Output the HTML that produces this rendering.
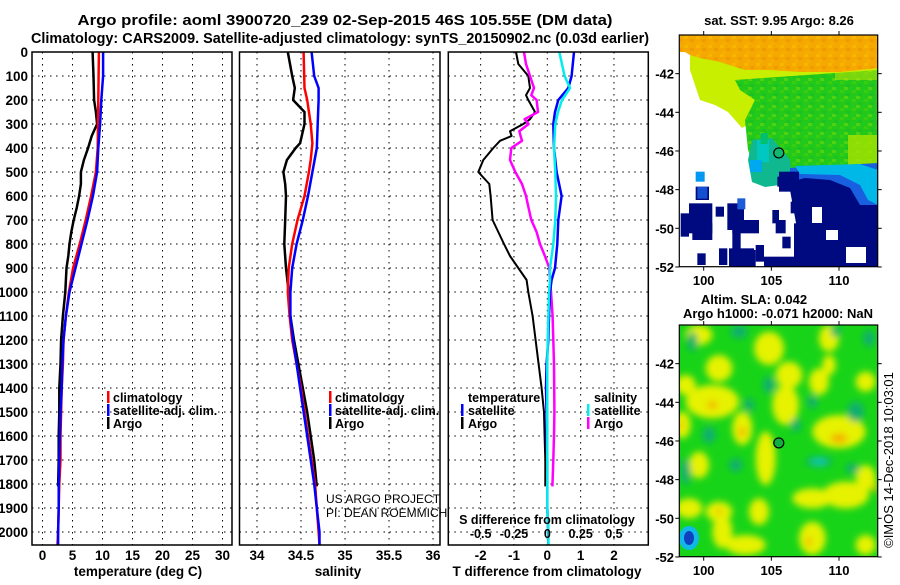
<!DOCTYPE html>
<html><head><meta charset="utf-8"><style>
html,body{margin:0;padding:0;background:#fff}
svg text{font-family:"Liberation Sans",sans-serif}
.b{font-weight:bold}
</style></head><body>
<svg id="chart" width="900" height="580" viewBox="0 0 900 580" xmlns="http://www.w3.org/2000/svg">
<defs>
<filter id="blur" x="-20%" y="-20%" width="140%" height="140%"><feGaussianBlur stdDeviation="3.5"/></filter>
<clipPath id="clipM1"><rect x="679.3" y="35" width="198.4" height="231.7"/></clipPath>
<clipPath id="clipM2"><rect x="679.3" y="325" width="198.4" height="231.7"/></clipPath>
<pattern id="spkO" width="12" height="9" patternUnits="userSpaceOnUse"><rect x="0" y="0" width="4" height="3" fill="#ffcc00"/><rect x="6" y="3" width="4" height="3" fill="#e88a00"/><rect x="2" y="6" width="4" height="3" fill="#f8b800"/></pattern>
<pattern id="spkG" width="12" height="9" patternUnits="userSpaceOnUse"><rect x="0" y="0" width="4" height="3" fill="#70d800"/><rect x="6" y="3" width="4" height="3" fill="#10b030"/><rect x="4" y="6" width="4" height="3" fill="#b8e800"/></pattern>
</defs>
<text class="b" x="345" y="25" font-size="14.5" text-anchor="middle" textLength="535" lengthAdjust="spacingAndGlyphs">Argo profile: aoml 3900720_239 02-Sep-2015 46S 105.55E (DM data)</text>
<text class="b" x="340" y="43" font-size="14.5" text-anchor="middle" textLength="618" lengthAdjust="spacingAndGlyphs">Climatology: CARS2009. Satellite-adjusted climatology: synTS_20150902.nc (0.03d earlier)</text>
<g id="panels"></g>
<g id="maps"></g>
</svg>
<script>
// ---- data ----
const depthsTclim = [0,200,400,500,600,700,800,900,1000,1100,1200,1300,1400,1500,1600,1700,1800,1900,2000,2054];
const tempClim    = [9.4,9.3,9.2,8.9,8.1,7.2,6.2,5.1,4.4,3.9,3.5,3.4,3.2,3.1,3.0,3.0,2.8,2.7,2.6,2.5];
const depthsTsat  = [0,100,200,300,400,500,600,700,800,900,1000,1100,1200,1300,1400,1500,1600,1700,1800,1900,2000,2054];
const tempSat     = [10.1,10.1,9.8,9.6,9.3,9.1,8.4,7.5,6.5,5.5,4.5,3.9,3.5,3.3,3.2,3.0,2.9,2.8,2.7,2.7,2.6,2.6];
const depthsArgo  = [0,100,200,250,300,350,400,450,500,550,600,650,700,750,800,850,900,1000,1100,1200,1300,1400,1500,1600,1700,1810];
const tempArgo    = [8.35,8.5,8.6,8.9,9.1,8.2,7.6,6.9,6.4,6.4,6.1,5.7,5.2,4.8,4.5,4.3,4.0,3.8,3.4,3.1,3.0,2.8,2.8,2.7,2.7,2.6];
const depthsSal   = [0,100,150,200,250,300,380,400,450,500,550,600,700,800,900,1000,1100,1200,1300,1400,1500,1600,1700,1810];
const salArgo     = [34.35,34.40,34.43,34.41,34.54,34.54,34.49,34.44,34.34,34.30,34.32,34.33,34.32,34.31,34.33,34.36,34.38,34.42,34.47,34.52,34.57,34.61,34.65,34.68];
const depthsSclim = [0,150,200,300,380,450,500,600,700,800,900,1000,1100,1200,1300,1400,1500,1600,1700,1800,1900,2000,2054];
const salClim     = [34.53,34.54,34.57,34.61,34.63,34.61,34.59,34.54,34.46,34.40,34.36,34.35,34.37,34.40,34.45,34.50,34.54,34.58,34.62,34.66,34.68,34.70,34.71];
const depthsSsat  = [0,100,150,200,300,400,500,600,700,800,900,1000,1100,1200,1300,1400,1500,1600,1700,1800,1900,2000,2054];
const salSat      = [34.62,34.65,34.70,34.70,34.69,34.68,34.63,34.58,34.52,34.45,34.40,34.38,34.38,34.41,34.45,34.49,34.53,34.57,34.61,34.65,34.68,34.71,34.71];
const depthsD     = [0,50,100,150,180,200,250,280,300,330,350,370,400,450,500,550,600,650,700,750,800,850,900,950,1000,1100,1200,1300,1400,1500,1600,1700,1810];
const dTargo      = [-0.94,-0.87,-0.57,-0.52,-0.64,-0.57,-0.37,-0.52,-0.72,-1.12,-1.07,-1.42,-1.62,-1.92,-2.07,-1.74,-1.70,-1.67,-1.64,-1.47,-1.30,-1.12,-0.87,-0.62,-0.57,-0.44,-0.35,-0.26,-0.17,-0.10,-0.08,-0.06,-0.06];
const depthsDsat  = [0,100,150,200,250,300,400,500,600,700,800,900,950,1000,1100,1200,1300,1400,1500,1600,1700,1800,1900,2000,2054];
const dTsat       = [0.80,0.73,0.63,0.33,0.23,0.18,0.20,0.28,0.43,0.33,0.30,0.23,0.13,0.08,0.05,0.03,-0.02,-0.04,-0.02,-0.02,0,0,0,0.03,0.03];
const dSargo      = [-0.175,-0.16,-0.13,-0.10,-0.12,-0.08,-0.07,-0.17,-0.14,-0.21,-0.2,-0.19,-0.27,-0.28,-0.24,-0.19,-0.16,-0.14,-0.12,-0.08,-0.055,-0.018,0.015,0.02,0.028,0.04,0.045,0.05,0.052,0.053,0.05,0.045,0.038];
const dSsat       = [0.09,0.13,0.17,0.11,0.08,0.06,0.05,0.06,0.065,0.06,0.045,0.02,0.02,0.013,0.008,0.003,0,0,0,0,0,0,0,0.008,0.008];
const depthTicks  = [0,100,200,300,400,500,600,700,800,900,1000,1100,1200,1300,1400,1500,1600,1700,1800,1900,2000];
const tempTicks   = [0,5,10,15,20,25,30];
const salTicks    = [34,34.5,35,35.5,36];
const dTTicks     = [-2,-1,0,1,2];
const dSTicks     = [-0.5,-0.25,0,0.25,0.5];
const dSTickLabels= ["-0.5","-0.25","0","0.25","0.5"];

const NS="http://www.w3.org/2000/svg";
function mk(tag,attrs,parent){const e=document.createElementNS(NS,tag);for(const k in attrs)e.setAttribute(k,attrs[k]);parent.appendChild(e);return e;}
const P=document.getElementById('panels');
const Y0=52, YS=0.24, YB=545;
const y=d=>Y0+d*YS;
const xT=v=>42.5+v*6.0;
const xS=v=>257+(v-34)*88;
const xDT=v=>547.3+v*33.33;
const xDS=v=>547.3+v*133.3;
const panels=[{l:32,r:232},{l:239.5,r:440},{l:448.3,r:648.3}];

function grid(p,xs,xf){
  depthTicks.forEach(d=>{
    const g=mk('line',{x1:p.l,x2:p.r,y1:y(d),y2:y(d),stroke:'#000','stroke-width':1,'stroke-dasharray':'1.5,4.5'},P);
    
    
  });
  xs.forEach(v=>{
    const g=mk('line',{x1:xf(v),x2:xf(v),y1:Y0,y2:YB,stroke:'#000','stroke-width':1,'stroke-dasharray':'1.5,4.5'},P);
    
    
  });
}
function frame(p,name){
  const r=mk('rect',{x:p.l,y:Y0,width:p.r-p.l,height:YB-Y0,fill:'none',stroke:'#000','stroke-width':1.5},P);
  
  
}
function line(ds,vs,xf,color,w,name){
  const pts=ds.map((d,i)=>xf(vs[i]).toFixed(1)+','+y(d).toFixed(1)).join(' ');
  const e=mk('polyline',{points:pts,fill:'none',stroke:color,'stroke-width':w,'stroke-linejoin':'round'},P);
  
  
}
function txt(x,yy,s,attrs,name){
  const e=mk('text',Object.assign({x:x,y:yy,'font-size':13},attrs||{}),P);
  e.textContent=s;
  
  
  return e;
}
function legBar(x,yy,color,name){
  const e=mk('rect',{x:x,y:yy-11,width:2.5,height:12,fill:color},P);
  
  
}

// panel 1
grid(panels[0],tempTicks,xT);
line(depthsArgo,tempArgo,xT,'#000',2.5,'temp-argo-line');
line(depthsTclim,tempClim,xT,'#f00',2.5,'temp-climatology-line');
line(depthsTsat,tempSat,xT,'#00f',2.5,'temp-satellite-line');
frame(panels[0],'temperature-panel');
depthTicks.forEach(d=>txt(28,y(d)+5,String(d),{'text-anchor':'end',class:'b','font-size':13.5},'depth-tick-label'));
tempTicks.forEach(v=>txt(xT(v),560,String(v),{'text-anchor':'middle',class:'b','font-size':13.5},'temp-tick-label'));
txt(138,576,'temperature (deg C)',{'text-anchor':'middle',class:'b','font-size':13.5},'temp-axis-title');
legBar(107,402,'#f00','legend-climatology-swatch');txt(113,402,'climatology',{class:'b','font-size':12.5},'legend-climatology');
legBar(107,415,'#00f','legend-satellite-swatch');txt(113,415,'satellite-adj. clim.',{class:'b','font-size':12.5},'legend-satellite');
legBar(107,428,'#000','legend-argo-swatch');txt(113,428,'Argo',{class:'b','font-size':12.5},'legend-argo');

// panel 2
grid(panels[1],salTicks,xS);
line(depthsSal,salArgo,xS,'#000',2.5,'sal-argo-line');
line(depthsSclim,salClim,xS,'#f00',2.5,'sal-climatology-line');
line(depthsSsat,salSat,xS,'#00f',2.5,'sal-satellite-line');
frame(panels[1],'salinity-panel');
salTicks.forEach(v=>txt(xS(v),560,String(v),{'text-anchor':'middle',class:'b','font-size':13.5},'sal-tick-label'));
txt(338,576,'salinity',{'text-anchor':'middle',class:'b','font-size':13.5},'sal-axis-title');
legBar(329,402,'#f00','legend2-climatology-swatch');txt(335,402,'climatology',{class:'b','font-size':12.5},'legend2-climatology');
legBar(329,415,'#00f','legend2-satellite-swatch');txt(335,415,'satellite-adj. clim.',{class:'b','font-size':12.5},'legend2-satellite');
legBar(329,428,'#000','legend2-argo-swatch');txt(335,428,'Argo',{class:'b','font-size':12.5},'legend2-argo');
txt(326,503,'US ARGO PROJECT',{'font-size':12},'credit-project');
txt(326,517,'PI: DEAN ROEMMICH',{'font-size':12},'credit-pi');

// panel 3
grid(panels[2],dTTicks,xDT);
line(depthsD,dTargo,xDT,'#000',2,'tdiff-argo-line');
line(depthsD,dSargo,xDS,'#f0f',2.5,'sdiff-argo-line');
line(depthsDsat,dTsat,xDT,'#00f',2.5,'tdiff-satellite-line');
line(depthsDsat,dSsat,xDS,'#0ee',2.5,'sdiff-satellite-line');
frame(panels[2],'difference-panel');
dTTicks.forEach(v=>txt(xDT(v),560,String(v),{'text-anchor':'middle',class:'b','font-size':13.5},'tdiff-tick-label'));
txt(547,576,'T difference from climatology',{'text-anchor':'middle',class:'b','font-size':13.5},'tdiff-axis-title');
txt(547,524,'S difference from climatology',{'text-anchor':'middle',class:'b','font-size':12.5},'sdiff-axis-title');
dSTicks.forEach((v,i)=>txt(xDS(v),538,dSTickLabels[i],{'text-anchor':'middle',class:'b','font-size':12.5},'sdiff-tick-label'));
txt(468,402,'temperature',{class:'b','font-size':12.5},'legend3-temperature-heading');
legBar(461,415,'#00f','legend3-tsat-swatch');txt(468,415,'satellite',{class:'b','font-size':12.5},'legend3-tsat');
legBar(461,428,'#000','legend3-targo-swatch');txt(468,428,'Argo',{class:'b','font-size':12.5},'legend3-targo');
txt(594,402,'salinity',{class:'b','font-size':12.5},'legend3-salinity-heading');
legBar(587,415,'#0ee','legend3-ssat-swatch');txt(594,415,'satellite',{class:'b','font-size':12.5},'legend3-ssat');
legBar(587,428,'#f0f','legend3-sargo-swatch');txt(594,428,'Argo',{class:'b','font-size':12.5},'legend3-sargo');
</script>
<script>
// ---- maps ----
const lonTicks=[100,105,110];
const latTicks=[-42,-44,-46,-48,-50,-52];
const floatLon=105.55, floatLat=-46.1;
const M=document.getElementById('maps');
const NS2="http://www.w3.org/2000/svg";
function mk2(tag,attrs,parent){const e=document.createElementNS(NS2,tag);for(const k in attrs)e.setAttribute(k,attrs[k]);parent.appendChild(e);return e;}
const ML=679.3, MR=877.7;
const mx=lon=>703.7+(lon-100)*13.53;
function my(lat,top){return top+(-40-lat)*19.33;}
function t2(x,yy,s,attrs,name){const e=mk2('text',Object.assign({x:x,y:yy,'font-size':13,'font-weight':'bold'},attrs||{}),M);e.textContent=s;return e;}
function axes(top,name){
  const r=mk2('rect',{x:ML,y:top,width:MR-ML,height:231.7,fill:'none',stroke:'#000','stroke-width':1.2},M);
  
  
  latTicks.forEach(l=>{t2(674,my(l,top)+5,String(l),{'text-anchor':'end'},'lat-tick-label');
    mk2('line',{x1:ML-4,x2:ML,y1:my(l,top),y2:my(l,top),stroke:'#000'},M);
    mk2('line',{x1:MR,x2:MR+4,y1:my(l,top),y2:my(l,top),stroke:'#000'},M);});
  lonTicks.forEach(l=>{t2(mx(l),top+250,String(l),{'text-anchor':'middle'},'lon-tick-label');
    mk2('line',{x1:mx(l),x2:mx(l),y1:top-4,y2:top,stroke:'#000'},M);
    mk2('line',{x1:mx(l),x2:mx(l),y1:top+231.7,y2:top+235.7,stroke:'#000'},M);});
}
function marker(top,fill){
  const c=mk2('circle',{cx:mx(floatLon),cy:my(floatLat,top),r:5,fill:fill,stroke:'#000','stroke-width':1.2},M);
  
  
}
// map 1: SST
const g1=mk2('g',{'clip-path':'url(#clipM1)'},M);


mk2('rect',{x:679,y:35,width:200,height:232,fill:'#fff'},g1);
mk2('polygon',{points:'690,52 878,52 878,90 760,90 772,100 768,118 752,122 742,128 735,120 728,112 715,105 700,100 695,85 690,70',fill:'#c8ee00'},g1);
mk2('polygon',{points:'735,80 878,70 878,200 860,195 840,185 820,175 800,170 790,175 770,175 755,170 748,150 745,120 755,100 740,90',fill:'#22c81a'},g1);
mk2('polygon',{points:'735,80 878,70 878,200 860,195 840,185 820,175 800,170 790,175 770,175 755,170 748,150 745,120 755,100 740,90',fill:'url(#spkG)',opacity:'0.3'},g1);
mk2('rect',{x:848,y:135,width:30,height:35,fill:'#a8e400',opacity:'0.8'},g1);
mk2('rect',{x:835,y:45,width:43,height:35,fill:'#d0e800',opacity:'0.5'},g1);
mk2('polygon',{points:'680,35 878,35 878,68 840,72 800,72 770,70 745,70 720,62 700,58 690,55 685,52 680,52',fill:'#f5a800'},g1);
mk2('polygon',{points:'680,35 878,35 878,68 840,72 800,72 770,70 745,70 720,62 700,58 690,55 685,52 680,52',fill:'url(#spkO)',opacity:'0.4'},g1);
mk2('polygon',{points:'752,140 772,138 790,160 792,178 780,185 765,187 752,182 748,160',fill:'#10b890'},g1);
mk2('rect',{x:757,y:140,width:12,height:22,fill:'#00c8c0'},g1);
mk2('rect',{x:750,y:160,width:12,height:12,fill:'#00a8f0'},g1);
mk2('polygon',{points:'790,170 878,165 878,267 797,267 796,223 790,190',fill:'#000a80'},g1);
mk2('polygon',{points:'790,168 878,163 878,205 860,205 850,188 830,180 805,178 790,182',fill:'#1860e0'},g1);
mk2('polygon',{points:'795,166 860,164 878,170 878,205 868,200 860,185 840,175 800,174',fill:'#00b8e8'},g1);
mk2('rect',{x:812,y:207,width:10,height:16,fill:'#fff'},g1);
mk2('rect',{x:846,y:247,width:20,height:16,fill:'#fff'},g1);
mk2('rect',{x:826,y:230,width:12,height:10,fill:'#fff'},g1);
const navyBlocks=[[5,220,25,70],[30,190,70,90],[50,140,40,40],[40,250,60,50],[110,200,25,30],[145,190,50,80],[160,240,80,40],[160,270,25,70],[230,315,25,50],[120,325,25,50],[55,340,25,35],[150,325,75,58],[180,330,50,50],[280,210,20,40],[290,240,30,40],[310,290,25,35],[255,350,100,33],[345,250,30,133],[335,185,25,35],[380,300,40,83],[300,95,60,60],[295,110,30,30],[340,150,30,50]];
navyBlocks.forEach(b=>{
  const e=mk2('rect',{x:679+b[0]/3,y:140+b[1]/3,width:b[2]/3,height:b[3]/3,fill:'#000a80'},g1);
  
  
});
mk2('rect',{x:679+50/3,y:140+95/3,width:9,height:10,fill:'#0098f0'},g1);
mk2('rect',{x:679+175/3,y:140+175/3,width:8,height:11,fill:'#1c5cd8'},g1);
mk2('rect',{x:679+55/3,y:140+140/3,width:10,height:12,fill:'#1450d0'},g1);
mk2('rect',{x:679+245/3,y:133,width:7,height:11,fill:'#00c070'},g1);
axes(35,'sst-map-frame');
marker(35,'#10b870');
t2(779,25,'sat. SST: 9.95 Argo: 8.26',{'text-anchor':'middle'},'sst-map-title');
// map 2: SLA
const g2=mk2('g',{'clip-path':'url(#clipM2)'},M);


mk2('rect',{x:679,y:325,width:200,height:232,fill:'#18d418'},g2);
const gb=mk2('g',{filter:'url(#blur)'},g2);
const yel=[[60,30,40,30],[270,70,45,50],[450,40,30,40],[100,230,80,50],[320,240,40,60],[480,320,80,50],[190,310,30,50],[10,300,25,40],[260,400,30,80],[60,420,30,40],[30,550,40,30],[120,560,40,30],[400,640,40,50],[500,510,70,40],[560,170,30,30],[130,620,30,50],[240,560,30,40],[560,660,30,30],[560,460,30,40],[400,520,60,30],[330,150,40,40],[200,660,60,30],[420,170,30,40],[120,130,40,40],[20,180,30,30],[450,120,20,30]];
yel.forEach(b=>mk2('ellipse',{cx:679+b[0]/3,cy:325+b[1]/3,rx:b[2]/3,ry:b[3]/3,fill:'#e6f200'},gb));
const org=[[100,240,15,12],[190,320,10,15],[480,340,25,15],[5,300,6,15],[390,650,8,15],[590,490,6,15],[120,560,10,8]];
org.forEach(b=>mk2('ellipse',{cx:679+b[0]/3,cy:325+b[1]/3,rx:b[2]/3,ry:b[3]/3,fill:'#f5b000'},gb));
const teal=[[270,180,18,25],[210,240,15,20],[350,300,15,20],[90,330,20,25],[420,410,40,15],[530,260,25,30],[570,40,18,25],[470,20,15,15],[180,20,25,20],[40,50,15,30],[20,440,15,40],[170,420,20,20],[520,430,20,15],[400,230,15,20]];
teal.forEach(b=>mk2('ellipse',{cx:679+b[0]/3,cy:325+b[1]/3,rx:b[2]/3,ry:b[3]/3,fill:'#10b070'},gb));
mk2('ellipse',{cx:679+420/3,cy:325+410/3,rx:8,ry:4,fill:'#10c8b0'},gb);
mk2('ellipse',{cx:689,cy:538,rx:10,ry:12,fill:'#10b8e8'},g2);
mk2('ellipse',{cx:689,cy:538,rx:5,ry:7,fill:'#1040c0'},g2);
axes(325,'sla-map-frame');
marker(325,'#10b040');
t2(754,304,'Altim. SLA: 0.042',{'text-anchor':'middle'},'sla-map-title');
t2(778,318,'Argo h1000: -0.071 h2000: NaN',{'text-anchor':'middle'},'sla-map-subtitle');
t2(0,0,'©IMOS 14-Dec-2018 10:03:01',{'font-weight':'normal','font-size':13,'text-anchor':'middle',transform:'translate(893,460) rotate(-90)'},'imos-timestamp');
</script>
</body></html>
